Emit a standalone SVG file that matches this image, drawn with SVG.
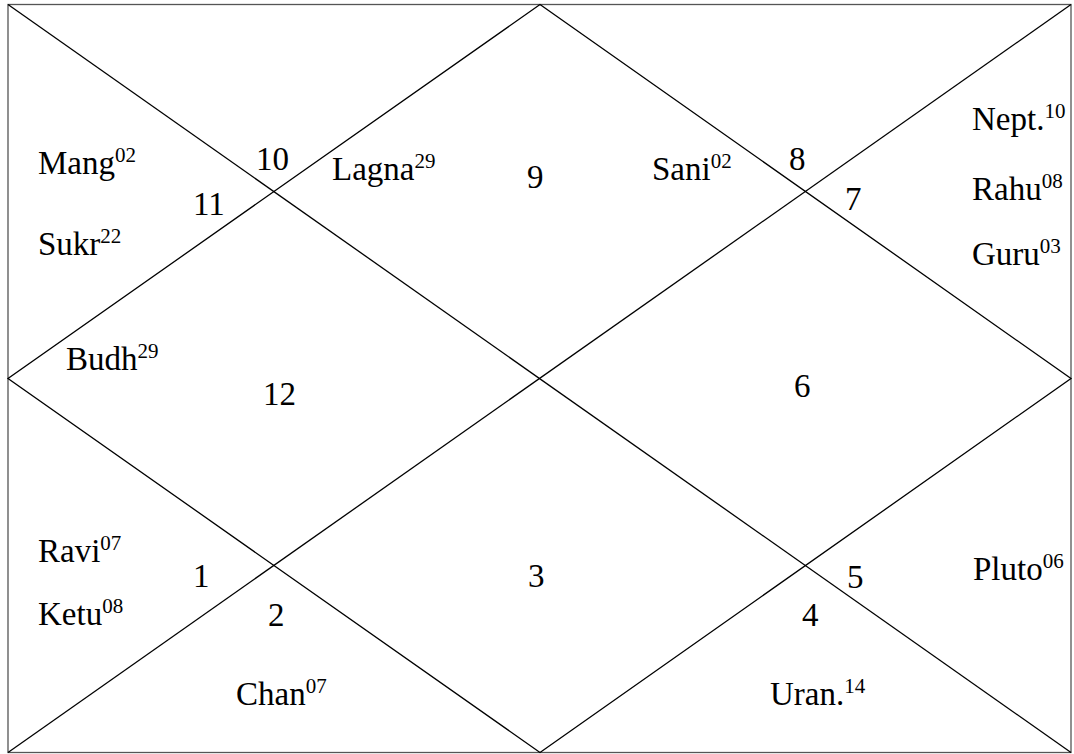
<svg xmlns="http://www.w3.org/2000/svg" width="1074" height="754" viewBox="0 0 1074 754">
<style>
text{font-family:"Liberation Serif","Times New Roman",serif;font-size:33px;fill:#000}
.s{font-size:21px}
.l{stroke:#000;stroke-width:1.3;fill:none}
</style>
<rect width="1074" height="754" fill="#fff"/>
<g id="connectors">
<rect class="l" x="8" y="4.5" width="1063" height="748" style="stroke:#555"/>
<line class="l" x1="8" y1="4.5" x2="1071" y2="752.5"/>
<line class="l" x1="1071" y1="4.5" x2="8" y2="752.5"/>
<polygon class="l" points="540,4.5 1071,378.5 540,752.5 8,378.5"/>
</g>
<g id="house9"><text x="527" y="188">9</text><text x="332" y="180">Lagna<tspan class="s" dy="-12">29</tspan></text></g>
<g id="house10"><text x="256" y="170">10</text></g>
<g id="house11"><text x="193" y="215">11</text><text x="38" y="174">Mang<tspan class="s" dy="-12">02</tspan></text><text x="38" y="255">Sukr<tspan class="s" dy="-12">22</tspan></text></g>
<g id="house8"><text x="789" y="170">8</text><text x="652" y="180">Sani<tspan class="s" dy="-12">02</tspan></text></g>
<g id="house7"><text x="845" y="210">7</text><text x="972" y="130">Nept.<tspan class="s" dy="-12">10</tspan></text><text x="972" y="200">Rahu<tspan class="s" dy="-12">08</tspan></text><text x="972" y="265">Guru<tspan class="s" dy="-12">03</tspan></text></g>
<g id="house12"><text x="263" y="405">12</text><text x="66" y="370">Budh<tspan class="s" dy="-12">29</tspan></text></g>
<g id="house6"><text x="794" y="397">6</text></g>
<g id="house1"><text x="193" y="587">1</text><text x="38" y="562">Ravi<tspan class="s" dy="-12">07</tspan></text><text x="38" y="625">Ketu<tspan class="s" dy="-12">08</tspan></text></g>
<g id="house2"><text x="268" y="626">2</text><text x="236" y="705">Chan<tspan class="s" dy="-12">07</tspan></text></g>
<g id="house3"><text x="528" y="587">3</text></g>
<g id="house4"><text x="802" y="626">4</text><text x="770" y="705">Uran.<tspan class="s" dy="-12">14</tspan></text></g>
<g id="house5"><text x="847" y="588">5</text><text x="973" y="580">Pluto<tspan class="s" dy="-12">06</tspan></text></g>
</svg>
